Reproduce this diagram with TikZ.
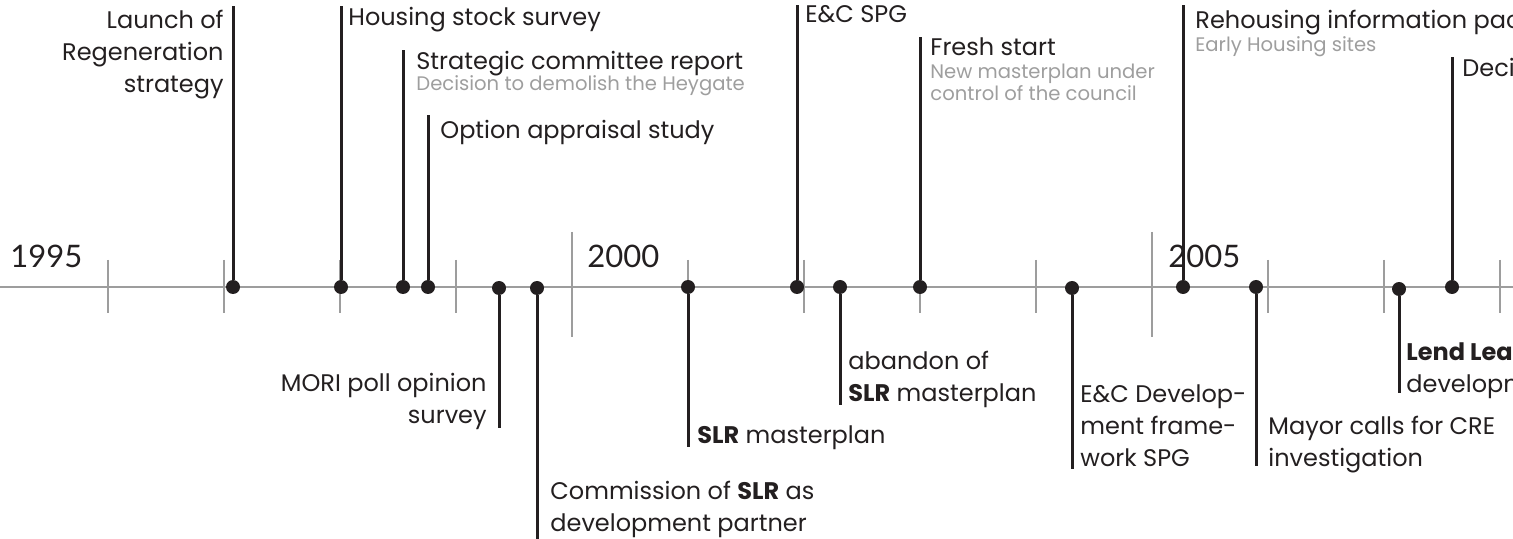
\documentclass[tikz,border=0pt]{standalone}
\usepackage{fontspec}
\setmainfont{Poppins}
\newfontfamily\yearfont{Lato}
\usetikzlibrary{positioning}
\definecolor{tlink}{HTML}{231F20}
\definecolor{tlgray}{HTML}{9D9D9D}
\definecolor{tlsub}{HTML}{9E9E9E}
\tikzset{
  axisline/.style={draw=tlgray, line width=0.75pt},
  minortick/.style={draw=tlgray, line width=0.55pt},
  yearlabel/.style={font=\yearfont\fontsize{15.5}{15.5}\selectfont, text=tlink,
                    inner sep=0pt, anchor=base west},
  event/.style={circle, fill=tlink, minimum size=7pt, inner sep=0pt},
  stem/.style={draw=tlink, line width=1.5pt},
  evtext/.style={font=\fontsize{12}{16}\selectfont, text=tlink, inner sep=0pt,
                 align=left, anchor=north west},
  evtextleft/.style={evtext, align=right, anchor=north east},
  subtext/.style={font=\fontsize{9.8}{9.2}\selectfont, text=tlsub, inner sep=0pt,
                  align=left, anchor=north west},
}

\begin{document}
\begin{tikzpicture}[x=0.5pt, y=-0.5pt]
\useasboundingbox (0,0) rectangle (1513,539);
\clip (0,0) rectangle (1513,539);

% ================= axis and years =================
\draw[axisline] (0,287) -- (1513,287);
\foreach \tx in {108,224,...,1500}
  \draw[minortick] (\tx,260) -- (\tx,313);
\draw[minortick] (572,232) -- (572,337);
\draw[minortick] (1152,232) -- (1152,337);

\node[yearlabel] (y1995) at (10,268) {1995};
\node[yearlabel] (y2000) at (587,268) {2000};
\node[yearlabel] (y2005) at (1168,268) {2005};

% ================= events above the axis =================
\node[event] (launch) at (233,287) {};
\coordinate (launchtop) at (233,6);
\draw[stem] (launch) -- (launchtop);
\node[evtextleft] (launchtxt) at (224,10) {Launch of\\Regeneration\\strategy};

\node[event] (stock) at (341,287) {};
\coordinate (stocktop) at (341,6);
\draw[stem] (stock) -- (stocktop);
\node[evtext] (stocktxt) at (348,7) {Housing stock survey};

\node[event] (comm) at (403,287) {};
\coordinate (commtop) at (403,50);
\draw[stem] (comm) -- (commtop);
\node[evtext] (commtxt) at (416,51) {Strategic committee report};
\node[subtext] (commsub) at (416,75) {Decision to demolish the Heygate};

\node[event] (option) at (428,287) {};
\coordinate (optiontop) at (428,115);
\draw[stem] (option) -- (optiontop);
\node[evtext] (optiontxt) at (440,120) {Option appraisal study};

\node[event] (spg) at (797,287) {};
\coordinate (spgtop) at (797,5);
\draw[stem] (spg) -- (spgtop);
\node[evtext] (spgtxt) at (805,5) {E\&C SPG};

\node[event] (fresh) at (920,287) {};
\coordinate (freshtop) at (920,37);
\draw[stem] (fresh) -- (freshtop);
\node[evtext] (freshtxt) at (930,37) {Fresh start};
\node[subtext] (freshsub) at (930,64) {New masterplan under\\control of the council};

\node[event] (rehouse) at (1183,287) {};
\coordinate (rehousetop) at (1183,5);
\draw[stem] (rehouse) -- (rehousetop);
\node[evtext] (rehousetxt) at (1195,10) {Rehousing information pack};
\node[subtext] (rehousesub) at (1195,36) {Early Housing sites};

\node[event] (dec) at (1452,287) {};
\coordinate (dectop) at (1452,57);
\draw[stem] (dec) -- (dectop);
\node[evtext] (dectxt) at (1462,58) {Decision};

% ================= events below the axis =================
\node[event] (mori) at (499,288) {};
\coordinate (moribot) at (499,428);
\draw[stem] (mori) -- (moribot);
\node[evtextleft] (moritxt) at (487,373) {MORI poll opinion\\survey};

\node[event] (partner) at (537,288) {};
\coordinate (partnerbot) at (537,539);
\draw[stem] (partner) -- (partnerbot);
\node[evtext] (partnertxt) at (550,481)
  {Commission of \textbf{SLR} as\\development partner};

\node[event] (slr) at (688,287) {};
\coordinate (slrbot) at (688,447);
\draw[stem] (slr) -- (slrbot);
\node[evtext] (slrtxt) at (697,425) {\textbf{SLR} masterplan};

\node[event] (abandon) at (840,287) {};
\coordinate (abandonbot) at (840,405);
\draw[stem] (abandon) -- (abandonbot);
\node[evtext] (abandontxt) at (848,351) {abandon of\\\textbf{SLR} masterplan};

\node[event] (frame) at (1072,288) {};
\coordinate (framebot) at (1072,469);
\draw[stem] (frame) -- (framebot);
\node[evtext] (frametxt) at (1080,384) {E\&C Develop-\\ment frame-\\work SPG};

\node[event] (mayor) at (1256,287) {};
\coordinate (mayorbot) at (1256,466);
\draw[stem] (mayor) -- (mayorbot);
\node[evtext] (mayortxt) at (1268,416) {Mayor calls for CRE\\investigation};

\node[event] (lend) at (1399,289) {};
\coordinate (lendbot) at (1399,393);
\draw[stem] (lend) -- (lendbot);
\node[evtext] (lendtxt) at (1406,342) {\textbf{Lend Lease}\\development partner};

\end{tikzpicture}
\end{document}
